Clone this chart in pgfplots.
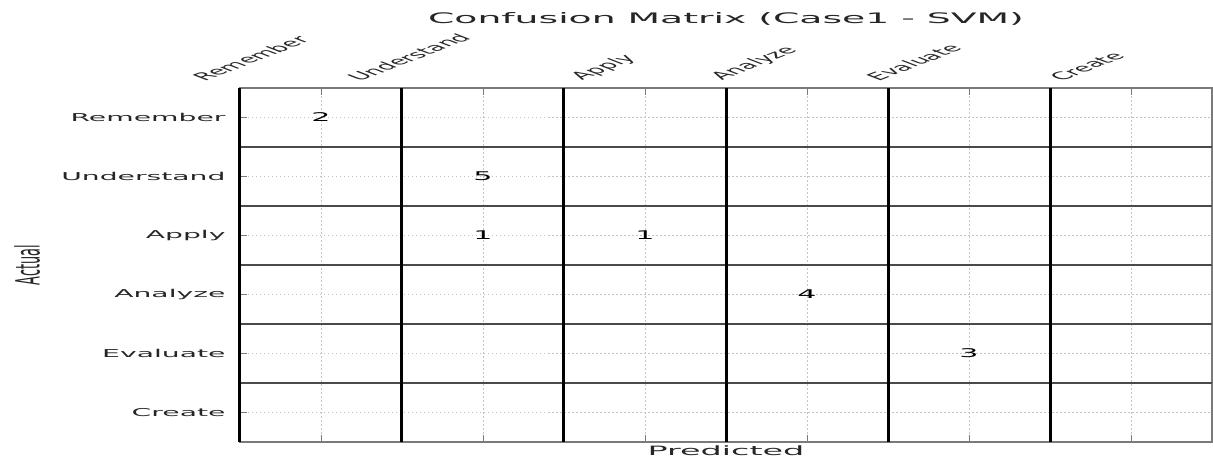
\documentclass[border=0pt]{standalone}
\usepackage{fontspec}
\setmainfont{DejaVu Sans}
\usepackage{pgfplots}
\usepackage{pgfplotstable}
\pgfplotsset{compat=1.18}

\definecolor{txt}{HTML}{262626}
\definecolor{framegray}{HTML}{7A7A7A}
\definecolor{cellline}{HTML}{4A4A4A}
\definecolor{dotgrid}{HTML}{C4C4C4}

% non-zero counts: predicted class, actual class, count
\pgfplotstableread{
pred act count
0 0 2
1 1 5
1 2 1
2 2 1
3 3 4
4 4 3
}\cmcounts

\begin{document}
\begin{tikzpicture}
\begin{axis}[
  name=ax,
  scale only axis,
  width=972pt, height=354pt,
  xmin=-0.5, xmax=5.5,
  ymin=-0.5, ymax=5.5,
  y dir=reverse,
  axis line style={framegray, line width=1.8pt},
  tick align=inside,
  major tick length=7pt,
  tick style={framegray, line width=0.8pt},
  xtick pos=both, ytick pos=left,
  xticklabel pos=upper,
  xtick={0,...,5},
  xticklabels={},
  ytick={0,...,5},
  yticklabels={Remember,Understand,Apply,Analyze,Evaluate,Create},
  yticklabel style={inner sep=0pt, xshift=-14pt, anchor=east, xscale=2.6,
    font=\fontsize{10.85}{13}\selectfont, text=txt},
  grid=major,
  major grid style={dotgrid, dash pattern=on 1.5pt off 2.5pt, line width=0.8pt},
  % class names above the columns
  extra x ticks={-0.296,0.660,2.056,2.920,3.864,4.994},
  extra x tick labels={Remember,Understand,Apply,Analyze,Evaluate,Create},
  extra x tick style={grid=none, major tick length=0pt,
    xticklabel style={xshift=-68pt, yshift=6pt, inner sep=0pt, anchor=south west,
      cm={1.838,0.707,-1.838,0.707,(0,0)},
      font=\fontsize{10.5}{12}\selectfont, text=txt}},
  % row separators
  extra y ticks={0.5,1.5,2.5,3.5,4.5},
  extra y tick labels={},
  extra y tick style={major tick length=0pt,
    major grid style={cellline, line width=1.8pt, solid}},
  title={Confusion Matrix (Case1 - SVM)},
  title style={at={(axis description cs:0.5,1)}, anchor=center, yshift=63pt,
    xscale=2.6, font=\fontsize{14.5}{17}\selectfont, text=txt},
  xlabel={Predicted},
  xlabel style={at={(axis description cs:0.5,0)}, anchor=north, inner sep=0pt,
    yshift=-4pt, xscale=2.6, font=\fontsize{12.85}{15}\selectfont, text=txt},
  ylabel={Actual},
  ylabel style={at={(axis description cs:-0.219,0.5)}, anchor=center, yscale=2.6,
    font=\fontsize{12.85}{15}\selectfont, text=txt},
  clip=false,
]
% column separators
\pgfplotsinvokeforeach{-0.5,0.5,1.5,2.5,3.5,4.5}{
  \addplot[black, line width=3pt, forget plot] coordinates {(#1,-0.5) (#1,5.5)};
}
% cell counts
\addplot[only marks, mark=*, mark size=0pt, mark options={draw=none, fill=none},
  point meta=explicit symbolic, nodes near coords,
  nodes near coords style={anchor=center, xscale=2.5,
    font=\fontsize{12}{14}\selectfont, text=black}]
  table[x=pred, y=act, meta=count] {\cmcounts};
\end{axis}
\pgfresetboundingbox
\path[use as bounding box] ([xshift=-240pt,yshift=-18pt]ax.south west)
  rectangle ([xshift=1pt,yshift=88pt]ax.north east);
\end{tikzpicture}
\end{document}
